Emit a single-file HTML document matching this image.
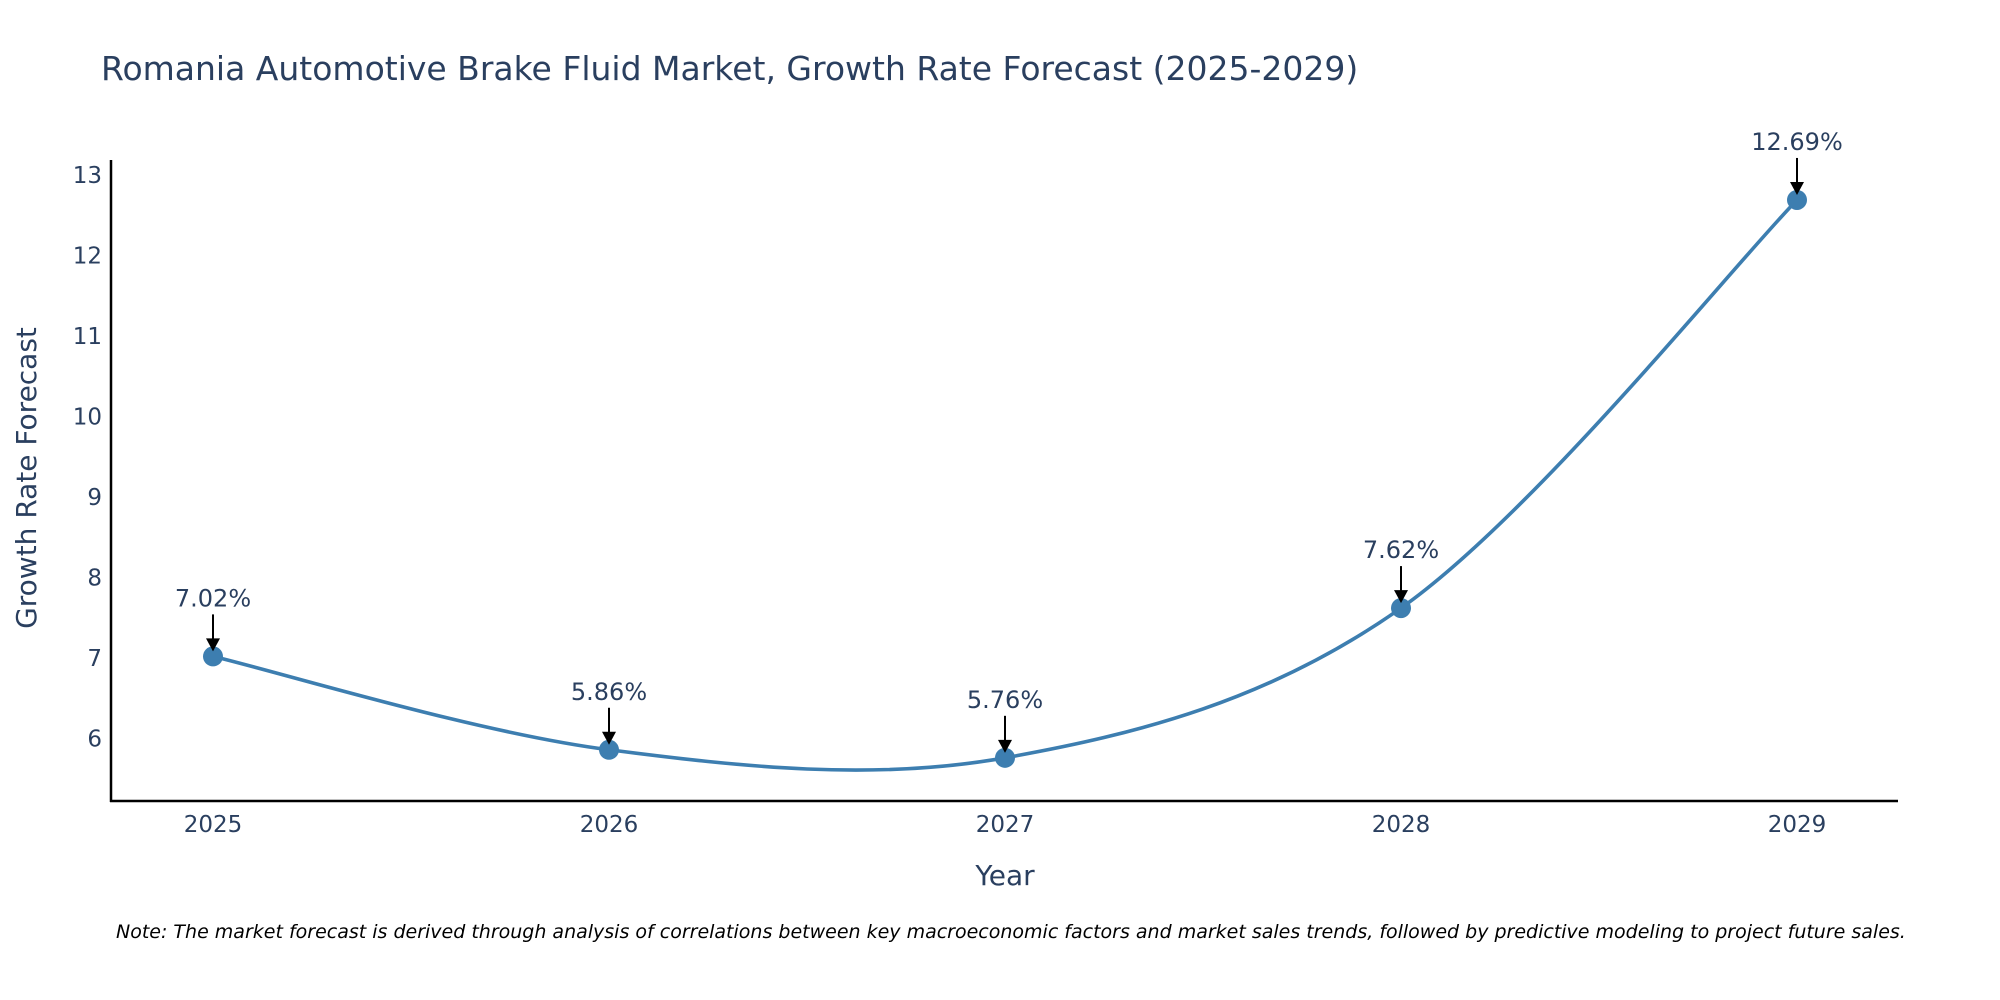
<!DOCTYPE html>
<html><head><meta charset="utf-8"><style>
html,body{margin:0;padding:0;background:#fff;}
svg{display:block;font-family:"DejaVu Sans","Liberation Sans",sans-serif;}
</style></head><body>
<svg id="chart" width="2000" height="1000" viewBox="0 0 2000 1000">
<text x="101" y="80" font-size="33" fill="#2a3f5f">Romania Automotive Brake Fluid Market, Growth Rate Forecast (2025-2029)</text>
<g id="yticks"></g>
<g id="xticks"></g>
<line x1="111" y1="160" x2="111" y2="802" stroke="#000" stroke-width="2.5"/>
<line x1="110" y1="801" x2="1898" y2="801" stroke="#000" stroke-width="2.5"/>
<text x="1005" y="885" font-size="28" fill="#2a3f5f" text-anchor="middle">Year</text>
<text transform="translate(36,478) rotate(-90)" font-size="28" fill="#2a3f5f" text-anchor="middle">Growth Rate Forecast</text>
<path id="line" fill="none" stroke="#3d7eb0" stroke-width="3.6"/>
<g id="points"></g>
<g id="annos"></g>
<text x="116" y="938" font-size="19" font-style="italic" fill="#000">Note: The market forecast is derived through analysis of correlations between key macroeconomic factors and market sales trends, followed by predictive modeling to project future sales.</text>
</svg>
<script>
const years = [2025, 2026, 2027, 2028, 2029];
const values = [7.02, 5.86, 5.76, 7.62, 12.69];
const valueLabels = ["7.02%", "5.86%", "5.76%", "7.62%", "12.69%"];
const yTickValues = [6, 7, 8, 9, 10, 11, 12, 13];

const NS = "http://www.w3.org/2000/svg";
function xScale(yr){ return 213 + (yr - 2025) * (1797 - 213) / 4; }
function yScale(v){ return 738.5 - (v - 6) * (738.5 - 175) / 7; }
function mk(tag, attrs, parent){ const e = document.createElementNS(NS, tag); for (const k in attrs) e.setAttribute(k, attrs[k]); parent.appendChild(e); return e; }

const yt = document.getElementById('yticks');
yTickValues.forEach(v => {
  const t = mk('text', {x: 102, y: yScale(v) + 8, 'font-size': 23, fill: '#2a3f5f', 'text-anchor': 'end'}, yt);
  
  
  t.textContent = v;
});
const xt = document.getElementById('xticks');
years.forEach(y => {
  const t = mk('text', {x: xScale(y), y: 832, 'font-size': 23, fill: '#2a3f5f', 'text-anchor': 'middle'}, xt);
  
  
  t.textContent = y;
});

const pts = years.map((y, i) => [xScale(y), yScale(values[i])]);
let d = `M${pts[0][0]},${pts[0][1]}`;
for (let i = 0; i < pts.length - 1; i++) {
  const p0 = pts[Math.max(0, i - 1)], p1 = pts[i], p2 = pts[i + 1], p3 = pts[Math.min(pts.length - 1, i + 2)];
  const s = 1/6;
  const c1 = [p1[0] + (p2[0] - p0[0]) * s, p1[1] + (p2[1] - p0[1]) * s];
  const c2 = [p2[0] - (p3[0] - p1[0]) * s, p2[1] - (p3[1] - p1[1]) * s];
  d += ` C${c1[0]},${c1[1]} ${c2[0]},${c2[1]} ${p2[0]},${p2[1]}`;
}
document.getElementById('line').setAttribute('d', d);

const pg = document.getElementById('points'), ag = document.getElementById('annos');
pts.forEach((p, i) => {
  const c = mk('circle', {cx: p[0], cy: p[1], r: 10, fill: '#3d7eb0'}, pg);
  
  
  const l = mk('line', {x1: p[0], y1: p[1] - 42, x2: p[0], y2: p[1] - 16, stroke: '#000', 'stroke-width': 2}, ag);
  
  
  const a = mk('polygon', {points: `${p[0]-7},${p[1]-18} ${p[0]+7},${p[1]-18} ${p[0]},${p[1]-5}`, fill: '#000'}, ag);
  
  
  const t = mk('text', {x: p[0], y: p[1] - 50, 'font-size': 24, fill: '#2a3f5f', 'text-anchor': 'middle'}, ag);
  
  
  t.textContent = valueLabels[i];
});
</script>
</body></html>
